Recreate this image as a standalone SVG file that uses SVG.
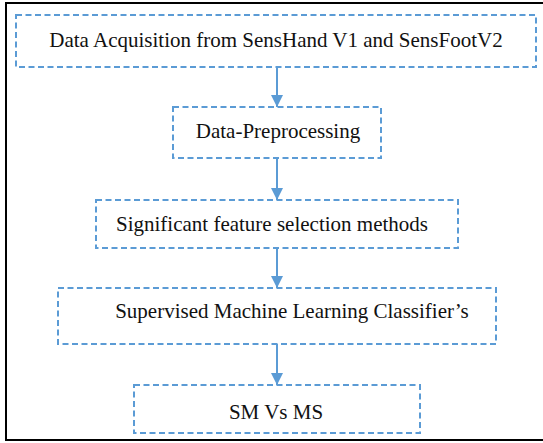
<svg xmlns="http://www.w3.org/2000/svg" width="543" height="443" viewBox="0 0 543 443">
  <style>
    .box { fill: none; stroke: #5B9BD5; stroke-width: 2; stroke-dasharray: 6 3.5; }
    .lbl { font-family: "Liberation Serif", "DejaVu Serif", serif; font-size: 21px; fill: #111; }
    .conn { stroke: #5B9BD5; stroke-width: 2; fill: none; }
  </style>
  <defs>
    <marker id="arrow" markerUnits="userSpaceOnUse" markerWidth="12" markerHeight="12" refX="12" refY="6" orient="auto">
      <path d="M0,0 L12,6 L0,12 Z" fill="#5B9BD5"/>
    </marker>
  </defs>
  <rect x="0" y="0" width="543" height="443" fill="#fff"/>
  <!-- outer frame -->
  <rect x="6" y="3" width="545" height="437" fill="none" stroke="#000" stroke-width="2"/>

  <g id="connectors">
    <line class="conn" x1="277" y1="67" x2="277" y2="107" marker-end="url(#arrow)"/>
    <line class="conn" x1="277" y1="158" x2="277" y2="200" marker-end="url(#arrow)"/>
    <line class="conn" x1="277" y1="248" x2="277" y2="288" marker-end="url(#arrow)"/>
    <line class="conn" x1="277" y1="344" x2="277" y2="385" marker-end="url(#arrow)"/>
  </g>

  <g id="acquisition">
    <rect class="box" x="16" y="15" width="520" height="52"/>
    <text class="lbl" x="276" y="47" text-anchor="middle">Data Acquisition from SensHand V1 and SensFootV2</text>
  </g>
  <g id="preprocessing">
    <rect class="box" x="173" y="107" width="208" height="51"/>
    <text class="lbl" x="278" y="138" text-anchor="middle">Data-Preprocessing</text>
  </g>
  <g id="feature-selection">
    <rect class="box" x="96" y="200" width="362" height="48"/>
    <text class="lbl" x="272" y="231" text-anchor="middle">Significant feature selection methods</text>
  </g>
  <g id="classifiers">
    <rect class="box" x="58" y="288" width="438" height="56"/>
    <text class="lbl" x="292" y="318" text-anchor="middle">Supervised Machine Learning Classifier’s</text>
  </g>
  <g id="comparison">
    <rect class="box" x="134" y="385" width="286" height="48"/>
    <text class="lbl" x="276" y="419" text-anchor="middle">SM Vs MS</text>
  </g>
</svg>
